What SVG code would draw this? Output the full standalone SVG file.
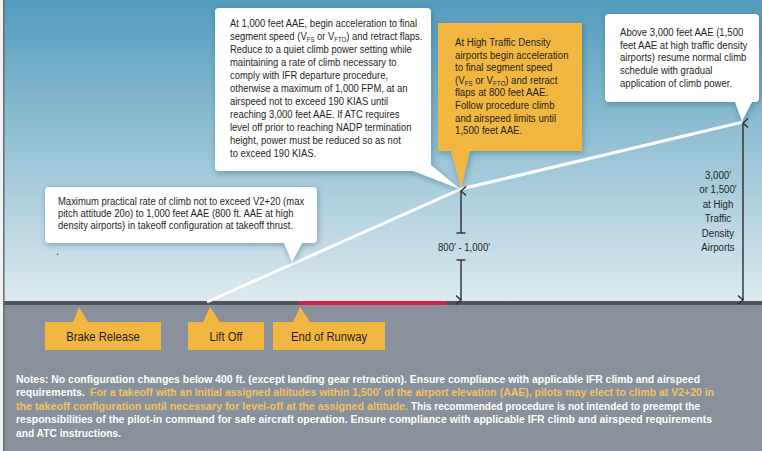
<svg xmlns="http://www.w3.org/2000/svg" width="762" height="451" viewBox="0 0 762 451">
<defs>
<linearGradient id="sky" x1="0" y1="0" x2="0" y2="301" gradientUnits="userSpaceOnUse">
<stop offset="0" stop-color="#549cbc"/>
<stop offset="1" stop-color="#dceaf0"/>
</linearGradient>
<filter id="sh" x="-10%" y="-10%" width="125%" height="130%">
<feDropShadow dx="1" dy="2" stdDeviation="3" flood-color="#1d4a60" flood-opacity="0.4"/>
</filter>
<marker id="ah" viewBox="0 0 12 12" refX="6" refY="1" markerWidth="12" markerHeight="12" markerUnits="userSpaceOnUse" orient="auto-start-reverse">
<path d="M1.5,6 L6,1 L10.5,6" fill="none" stroke="#2b2b2b" stroke-width="1.4"/>
</marker>
</defs>
<style>
.ct{font-family:"Liberation Sans",Arial,sans-serif;font-size:11px;fill:#231f20}
.gl{font-family:"Liberation Sans",Arial,sans-serif;font-size:12.5px;fill:#231f20;text-anchor:middle}
.dl{font-family:"Liberation Sans",Arial,sans-serif;font-size:11px;fill:#231f20;text-anchor:middle}
.nt{font-family:"Liberation Sans",Arial,sans-serif;font-size:10.5px;fill:#ffffff;font-weight:bold}
.or{fill:#f3c160}
.sub{font-size:7px}
.white{fill:#ffffff}
.yel{fill:#f2b740}
.dim{stroke:#2b2b2b;stroke-width:1.4;fill:none}
</style>
<rect x="0" y="0" width="762" height="451" fill="#f2f2f2"/>
<rect x="4" y="0" width="758" height="302" fill="url(#sky)"/>
<rect x="4" y="302" width="758" height="149" fill="#87909b"/>
<rect x="4" y="301" width="758" height="4" fill="#4e5459"/>
<rect x="298" y="301" width="148" height="4" fill="#e31b4b"/>
<line x1="3.8" y1="0" x2="3.8" y2="451" stroke="#5f6b74" stroke-width="1.5"/>

<g id="connectors">
<polyline points="207,302 461,189 743,122" fill="none" stroke="#ffffff" stroke-width="3"/>
<line class="dim" x1="461" y1="191" x2="461" y2="233" marker-start="url(#ah)"/>
<line class="dim" x1="456.5" y1="233" x2="465.5" y2="233"/>
<line class="dim" x1="461" y1="260" x2="461" y2="300" marker-end="url(#ah)"/>
<line class="dim" x1="456.5" y1="260" x2="465.5" y2="260"/>
<line class="dim" x1="743" y1="123" x2="743" y2="300" marker-start="url(#ah)" marker-end="url(#ah)"/>
</g>

<g id="callout-1000ft">
<path class="white" filter="url(#sh)" d="M219,8 H427 Q431,8 431,12 V165 L460,189 L413,171 H219 Q215,171 215,167 V12 Q215,8 219,8 Z"/>
<g transform="translate(230,0) scale(0.86,1)">
<text class="ct" x="0" y="27">At 1,000 feet AAE, begin acceleration to final</text>
<text class="ct" x="0" y="40">segment speed (V<tspan class="sub" dy="2">FS</tspan><tspan dy="-2"> or V</tspan><tspan class="sub" dy="2">FTO</tspan><tspan dy="-2">) and retract flaps.</tspan></text>
<text class="ct" x="0" y="53">Reduce to a quiet climb power setting while</text>
<text class="ct" x="0" y="66">maintaining a rate of climb necessary to</text>
<text class="ct" x="0" y="79">comply with IFR departure procedure,</text>
<text class="ct" x="0" y="92">otherwise a maximum of 1,000 FPM, at an</text>
<text class="ct" x="0" y="105">airspeed not to exceed 190 KIAS until</text>
<text class="ct" x="0" y="118">reaching 3,000 feet AAE. If ATC requires</text>
<text class="ct" x="0" y="131">level off prior to reaching NADP termination</text>
<text class="ct" x="0" y="144">height, power must be reduced so as not</text>
<text class="ct" x="0" y="157">to exceed 190 KIAS.</text>
</g>
</g>

<g id="callout-high-traffic">
<path class="yel" filter="url(#sh)" d="M438,23 H582 V151 H470 L461,188 L451,151 H438 Z"/>
<g transform="translate(455,0) scale(0.88,1)">
<text class="ct" x="0" y="46">At High Traffic Density</text>
<text class="ct" x="0" y="58.6">airports begin acceleration</text>
<text class="ct" x="0" y="71.2">to final segment speed</text>
<text class="ct" x="0" y="83.8">(V<tspan class="sub" dy="2">FS</tspan><tspan dy="-2"> or V</tspan><tspan class="sub" dy="2">FTO</tspan><tspan dy="-2">) and retract</tspan></text>
<text class="ct" x="0" y="96.4">flaps at 800 feet AAE.</text>
<text class="ct" x="0" y="109">Follow procedure climb</text>
<text class="ct" x="0" y="121.6">and airspeed limits until</text>
<text class="ct" x="0" y="134.2">1,500 feet AAE.</text>
</g>
</g>

<g id="callout-above-3000">
<path class="white" filter="url(#sh)" d="M609,14 H755 Q759,14 759,18 V98 Q759,102 755,102 H752 L742,121 L735,102 H609 Q605,102 605,98 V18 Q605,14 609,14 Z"/>
<g transform="translate(620,0) scale(0.87,1)">
<text class="ct" x="0" y="36">Above 3,000 feet AAE (1,500</text>
<text class="ct" x="0" y="48.75">feet AAE at high traffic density</text>
<text class="ct" x="0" y="61.5">airports) resume normal climb</text>
<text class="ct" x="0" y="74.25">schedule with gradual</text>
<text class="ct" x="0" y="87">application of climb power.</text>
</g>
</g>

<g id="callout-max-climb">
<path class="white" filter="url(#sh)" d="M49,187 H313 Q317,187 317,191 V239 Q317,243 313,243 H302 L292,262 L284,243 H49 Q45,243 45,239 V191 Q45,187 49,187 Z"/>
<g transform="translate(58,0) scale(0.86,1)">
<text class="ct" x="0" y="205.5">Maximum practical rate of climb not to exceed V2+20 (max</text>
<text class="ct" x="0" y="217">pitch attitude 20o) to 1,000 feet AAE (800 ft. AAE at high</text>
<text class="ct" x="0" y="229">density airports) in takeoff configuration at takeoff thrust.</text>
</g>
</g>

<g id="dot">
<text class="ct" x="56" y="255">.</text>
</g>

<g id="label-800-1000">
<text class="dl" transform="translate(464,251)" x="0" y="0" textLength="52" lengthAdjust="spacingAndGlyphs">800′ - 1,000′</text>
</g>

<g id="label-3000">
<g transform="translate(718,0) scale(0.88,1)">
<text class="dl" x="0" y="179">3,000′</text>
<text class="dl" x="0" y="193.5">or 1,500′</text>
<text class="dl" x="0" y="208">at High</text>
<text class="dl" x="0" y="222.5">Traffic</text>
<text class="dl" x="0" y="237">Density</text>
<text class="dl" x="0" y="251.5">Airports</text>
</g>
</g>

<g id="brake-release">
<path class="yel" d="M45,322 H73 L79,307 L88,322 H161 V350 H45 Z"/>
<text class="gl" transform="translate(103,340.5) scale(0.9,1)" x="0" y="0">Brake Release</text>
</g>
<g id="lift-off">
<path class="yel" d="M188,322 H203 L210,307 L220,322 H264 V350 H188 Z"/>
<text class="gl" transform="translate(226,340.5) scale(0.9,1)" x="0" y="0">Lift Off</text>
</g>
<g id="end-of-runway">
<path class="yel" d="M273,322 H293 L300,307 L310,322 H385 V350 H273 Z"/>
<text class="gl" transform="translate(329,340.5) scale(0.9,1)" x="0" y="0">End of Runway</text>
</g>

<g id="notes">
<text class="nt" x="16" y="382.5" textLength="684" lengthAdjust="spacingAndGlyphs">Notes: No configuration changes below 400 ft. (except landing gear retraction). Ensure compliance with applicable IFR climb and airspeed</text>
<text class="nt" x="16" y="396" textLength="69" lengthAdjust="spacingAndGlyphs">requirements.</text>
<text class="nt or" x="90" y="396" textLength="624" lengthAdjust="spacingAndGlyphs">For a takeoff with an initial  assigned altitudes within 1,500′ of the airport elevation (AAE), pilots may elect to climb at V2+20 in</text>
<text class="nt or" x="16" y="409.5" textLength="392" lengthAdjust="spacingAndGlyphs">the takeoff configuration until necessary for level-off at the assigned altitude.</text>
<text class="nt" x="411" y="409.5" textLength="289" lengthAdjust="spacingAndGlyphs">This recommended procedure is not intended to preempt the</text>
<text class="nt" x="16" y="423" textLength="696" lengthAdjust="spacingAndGlyphs">responsibilities of the pilot-in command for safe aircraft operation. Ensure compliance with applicable IFR climb and airspeed requirements</text>
<text class="nt" x="16" y="436.5" textLength="105" lengthAdjust="spacingAndGlyphs">and ATC instructions.</text>
</g>
</svg>
